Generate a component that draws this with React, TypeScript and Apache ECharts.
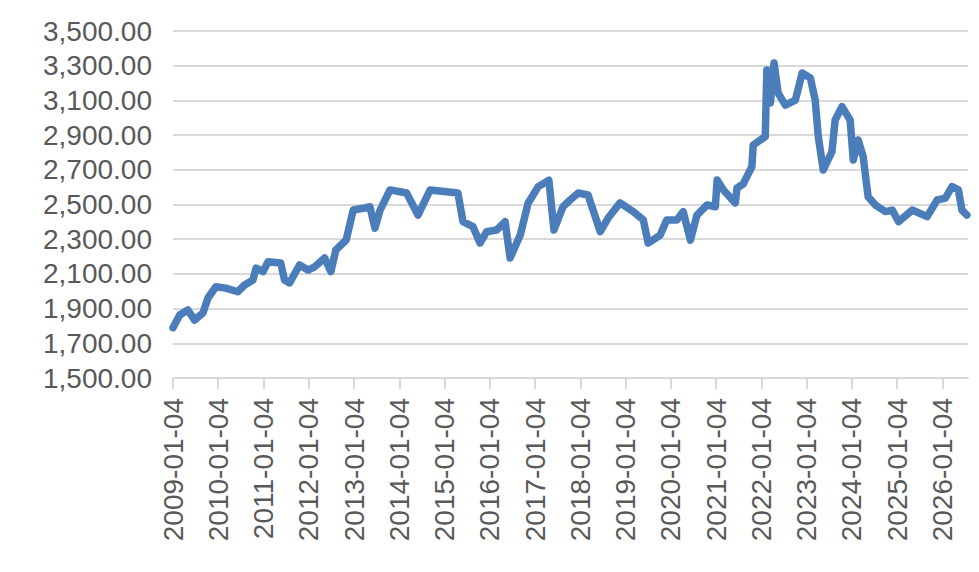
import React, { useEffect, useRef } from "react";
import * as echarts from "echarts";

const dates: string[] = [
  "2009-01-04", "2009-02-27", "2009-05-04", "2009-06-27", "2009-09-03", "2009-10-13", "2009-12-16",
  "2010-03-05", "2010-06-11", "2010-08-05", "2010-10-11", "2010-11-05",
  "2011-01-01", "2011-02-10", "2011-05-23", "2011-06-23", "2011-08-03", "2011-10-22", "2011-12-29",
  "2012-02-22", "2012-05-11", "2012-07-01", "2012-08-10", "2012-11-01", "2012-12-28",
  "2013-03-30", "2013-05-12", "2013-06-22", "2013-08-02", "2013-10-21",
  "2014-03-04", "2014-06-04", "2014-09-10",
  "2015-01-22", "2015-04-22", "2015-06-02", "2015-08-22", "2015-10-17", "2015-12-10",
  "2016-02-29", "2016-05-07", "2016-06-16", "2016-09-06", "2016-11-09",
  "2017-01-29", "2017-04-25", "2017-06-05", "2017-08-17", "2017-10-13", "2017-12-17",
  "2018-03-07", "2018-06-14", "2018-08-16", "2018-11-20",
  "2019-03-07", "2019-05-27", "2019-07-05", "2019-10-10", "2019-12-02",
  "2020-02-22", "2020-04-13", "2020-06-10", "2020-08-02", "2020-10-22", "2020-12-28",
  "2021-01-12", "2021-03-03", "2021-06-07", "2021-06-21", "2021-08-10", "2021-10-19", "2021-10-30",
  "2022-02-04", "2022-02-17", "2022-02-26", "2022-03-06", "2022-03-17", "2022-04-16", "2022-05-19", "2022-07-16", "2022-10-05", "2022-11-29",
  "2023-02-03", "2023-03-14", "2023-04-08", "2023-05-18", "2023-07-27", "2023-08-22", "2023-10-16", "2023-12-21",
  "2024-01-15", "2024-02-24", "2024-04-04", "2024-05-14", "2024-07-12", "2024-10-01", "2024-11-25",
  "2025-01-15", "2025-05-05", "2025-09-02", "2025-11-22",
  "2026-01-27", "2026-03-22", "2026-05-12", "2026-06-10", "2026-07-20",
];

const values: number[] = [
  1790, 1863, 1892, 1834, 1875, 1961, 2026,
  2018, 1997, 2036, 2065, 2133,
  2113, 2170, 2163, 2065, 2048, 2151, 2122,
  2141, 2192, 2113, 2238, 2295, 2468,
  2480, 2487, 2364, 2468, 2584,
  2566, 2439, 2584,
  2574, 2566, 2401, 2372, 2278, 2343,
  2353, 2401, 2192, 2324, 2509,
  2603, 2640, 2353, 2487, 2526, 2566,
  2555, 2343, 2422, 2509,
  2459, 2411, 2278, 2324, 2411,
  2411, 2459, 2295, 2439, 2497, 2487,
  2641, 2584, 2509, 2595, 2618, 2718, 2843,
  2891, 3275, 3120, 3240, 3085, 3315, 3142, 3073, 3102, 3258,
  3229, 3102, 2891, 2699, 2804, 2987, 3064, 2987,
  2756, 2872, 2776, 2545, 2497, 2459, 2468,
  2401, 2468, 2430, 2526,
  2537, 2603, 2584, 2468, 2439,
];

const tickYears: number[] = [
  2009, 2010, 2011, 2012, 2013, 2014, 2015, 2016, 2017, 2018,
  2019, 2020, 2021, 2022, 2023, 2024, 2025, 2026,
];

const yTicks = { min: 1500, max: 3500, interval: 200 };

const toTs = (d: string): number => {
  const [y, m, day] = d.split("-").map(Number);
  return Date.UTC(y, m - 1, day);
};

const fmtDate = (ts: number): string => {
  const d = new Date(ts);
  const p = (n: number) => String(n).padStart(2, "0");
  return `${d.getUTCFullYear()}-${p(d.getUTCMonth() + 1)}-${p(d.getUTCDate())}`;
};

export default function App() {
  const ref = useRef<HTMLDivElement>(null);

  useEffect(() => {
    if (!ref.current) return;
    const chart = echarts.init(ref.current, undefined, { renderer: "svg" });
    const tickTs = tickYears.map((y) => Date.UTC(y, 0, 4));
    const font = "'Liberation Sans', Arial, sans-serif";
    chart.setOption({
      animation: false,
      backgroundColor: "#ffffff",
      grid: { left: 173, right: 11, top: 31, bottom: 194, containLabel: false },
      xAxis: {
        type: "value",
        min: Date.UTC(2009, 0, 4),
        max: Date.UTC(2026, 6, 29),
        splitLine: { show: false },
        axisLine: { show: true, lineStyle: { color: "#d9d9d9", width: 2 } },
        axisTick: {
          show: true,
          length: 11,
          customValues: tickTs,
          lineStyle: { color: "#d9d9d9", width: 2 },
        },
        axisLabel: {
          customValues: tickTs,
          rotate: 90,
          margin: 20,
          color: "#595959",
          fontSize: 28,
          fontFamily: font,
          formatter: (v: number) => fmtDate(v),
        },
      },
      yAxis: {
        type: "value",
        min: yTicks.min,
        max: yTicks.max,
        interval: yTicks.interval,
        axisLine: { show: false },
        axisTick: { show: false },
        splitLine: { show: true, lineStyle: { color: "#d9d9d9", width: 2 } },
        axisLabel: {
          margin: 21,
          color: "#595959",
          fontSize: 28,
          fontFamily: font,
          formatter: (v: number) =>
            v.toLocaleString("en-US", { minimumFractionDigits: 2, maximumFractionDigits: 2 }),
        },
      },
      series: [
        {
          type: "line",
          data: dates.map((d, i) => [toTs(d), values[i]]),
          showSymbol: false,
          symbol: "none",
          lineStyle: { color: "#4a7dba", width: 7.5, cap: "round", join: "round" },
          itemStyle: { color: "#4a7dba" },
        },
      ],
    });
    return () => chart.dispose();
  }, []);

  return (
    <div
      ref={ref}
      style={{ position: "fixed", left: 0, top: 0, width: 979, height: 572, background: "#fff" }}
    />
  );
}
